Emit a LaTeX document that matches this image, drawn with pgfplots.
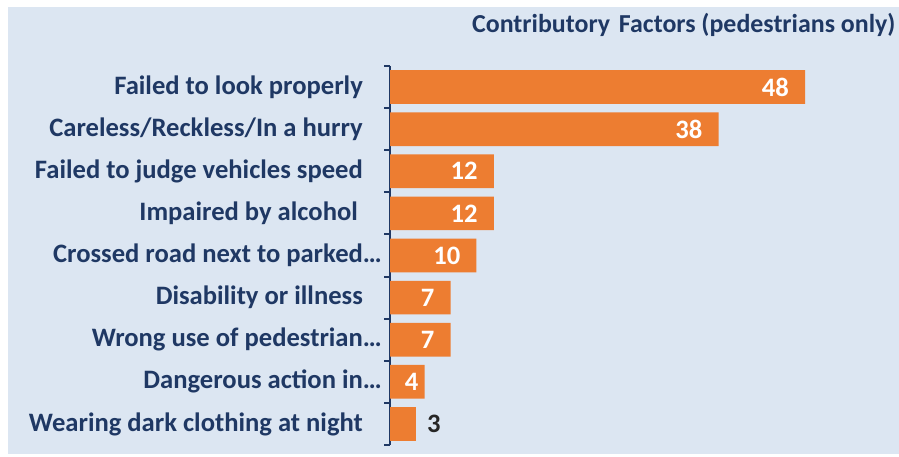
\documentclass[border=0pt]{standalone}
\usepackage{pgfplots}
\pgfplotsset{compat=1.18}
\usepackage{fontspec}
\setmainfont{Carlito}
\definecolor{bgblue}{RGB}{220,230,242}
\definecolor{navy}{RGB}{31,56,100}
\definecolor{barorange}{RGB}{237,125,49}
\definecolor{darktext}{RGB}{38,38,38}
\begin{document}
\begin{tikzpicture}[x=1bp,y=1bp]
\useasboundingbox (0,0) rectangle (899,457);
\clip (0,0) rectangle (899,457);
\fill[white] (0,0) rectangle (899,457);
\fill[bgblue] (8,3) rectangle (899,450);
\begin{axis}[
  at={(390bp,12bp)}, anchor=south west,
  scale only axis, width=509bp, height=379bp,
  xmin=0, xmax=58.87, ymin=-0.5, ymax=8.5,
  y dir=reverse,
  hide x axis,
  axis y line*=left,
  y axis line style={navy, line width=2bp},
  ytick={0,1,2,3,4,5,6,7,8},
  yticklabels={
    {Failed to look properly\hspace*{19bp}},
    {Careless/Reckless/In a hurry\hspace*{19bp}},
    {Failed to judge vehicles speed\hspace*{19bp}},
    {Impaired by alcohol\hspace*{24bp}},
    {Crossed road next to parked…},
    {Disability or illness\hspace*{19bp}},
    {Wrong use of pedestrian…},
    {Dangerous action in…},
    {Wearing dark clothing at night\hspace*{19bp}}},
  major tick length=0pt,
  minor ytick={-0.5,0.5,1.5,2.5,3.5,4.5,5.5,6.5,7.5,8.5},
  minor tick length=6bp,
  tick align=outside,
  minor tick style={navy, line width=2bp},
  yticklabel style={font=\bfseries\fontsize{26.7}{30}\selectfont, text=navy, anchor=east, inner sep=0pt, xshift=-8bp},
  title={Contributory\hspace{3bp} Factors (pedestrians only)},
  title style={font=\bfseries\fontsize{26}{30}\selectfont, text=navy, anchor=base west, inner sep=0pt, at={(axis description cs:0.161,1.0739)}},
  clip=false,
  point meta=x,
  /pgf/number format/assume math mode=true,
]
\addplot[xbar, fill=barorange, draw=none, bar width=0.8, bar shift=0pt]
  coordinates {(48,0) (38,1) (12,2) (12,3) (10,4) (7,5) (7,6) (4,7) (3,8)};
\addplot[draw=none, mark=none, nodes near coords,
  every node near coord/.append style={anchor=east, text=white, inner sep=0pt, xshift=-16bp, font=\bfseries\fontsize{26.7}{30}\selectfont}]
  coordinates {(48,0) (38,1) (12,2) (12,3) (10,4) (7,5) (7,6)};
\addplot[draw=none, mark=none, nodes near coords,
  every node near coord/.append style={anchor=east, text=white, inner sep=0pt, xshift=-6bp, font=\bfseries\fontsize{26.7}{30}\selectfont}]
  coordinates {(4,7)};
\addplot[draw=none, mark=none, nodes near coords,
  every node near coord/.append style={anchor=west, text=darktext, inner sep=0pt, xshift=11bp, font=\bfseries\fontsize{26.7}{30}\selectfont}]
  coordinates {(3,8)};
\end{axis}
\end{tikzpicture}
\end{document}
